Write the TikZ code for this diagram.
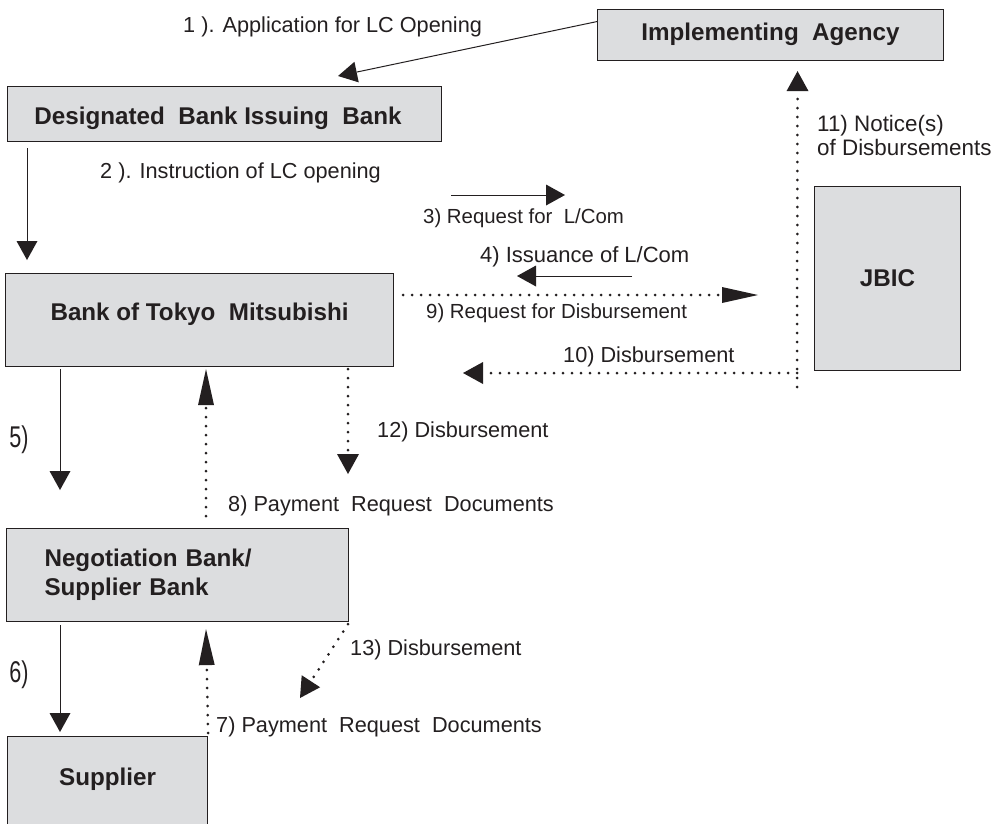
\documentclass[tikz,border=0pt]{standalone}
\usepackage{fontspec}
\setmainfont{Liberation Sans}
\usetikzlibrary{arrows.meta,calc}
\definecolor{boxgray}{RGB}{220,221,223}
\definecolor{ink}{RGB}{35,31,32}
\newcommand{\boxtxt}[2]{\raisebox{#1}[0pt][0pt]{#2}}
\newcommand{\fsz}[1]{\fontsize{#1}{24}\selectfont}
\begin{document}
\begin{tikzpicture}[x=1pt,y=-1pt,
  box/.style={draw=ink, line width=1.1pt, fill=boxgray, inner sep=0pt, anchor=north west,
    font=\bfseries\fontsize{24.2}{29}\selectfont, text=ink},
  lbl/.style={font=\fontsize{21.7}{24}\selectfont, text=ink, inner sep=0pt, anchor=west},
  bignum/.style={font=\fontsize{30}{34}\selectfont, text=ink, inner sep=0pt},
  solidarr/.style={draw=ink, line width=1pt, -{Triangle[length=19pt,width=21pt,line width=0pt]}},
  dotarr/.style={draw=ink, line width=3pt, line cap=round, dash pattern=on 0pt off 9pt,
    -{Triangle[length=20pt,width=22pt,line width=0pt]}},
  dotlong/.style={draw=ink, line width=3pt, line cap=round, dash pattern=on 0pt off 9pt,
    -{Triangle[length=36pt,width=16pt,line width=0pt]}}
]
\useasboundingbox (0,0) rectangle (992,823);

% boxes
\node[box, minimum width=346pt, minimum height=51pt] (ia) at (597,9) {\boxtxt{-5.4pt}{Implementing~ Agency}};
\node[box, minimum width=434pt, minimum height=55pt] (db) at (7,86) {\boxtxt{-10pt}{\kern-13pt Designated~ Bank Issuing~ Bank}};
\node[box, minimum width=388pt, minimum height=93pt] (btm) at (5,273) {\boxtxt{-0.4pt}{Bank of Tokyo~ Mitsubishi}};
\node[box, minimum width=146pt, minimum height=184pt] (jbic) at (814,186) {\boxtxt{-8.1pt}{JBIC}};
\node[box, minimum width=342pt, minimum height=93pt, align=left, text width=266pt] (nb) at (6,528) {Negotiation Bank/\\Supplier Bank};
\node[box, minimum width=200pt, minimum height=92pt] (sup) at (7,736) {\boxtxt{-2.6pt}{Supplier}};

% labels
\node[lbl] (l1) at (183,27) {1 ). Application for LC Opening};
\node[lbl] (l2) at (100,173) {2 ). Instruction of LC opening};
\node[lbl, font=\fsz{20.4}] (l3) at (423,218) {3) Request for~ L/Com};
\node[lbl, font=\fsz{22}] (l4) at (480,257) {4) Issuance of L/Com};
\node[lbl, font=\fsz{20.4}] (l9) at (426,313) {9) Request for Disbursement};
\node[lbl] (l10) at (563,357) {10) Disbursement};
\node[lbl, align=left, font=\fsz{22.4}] (l11) at (817,135) {11) Notice(s)\\of Disbursements};
\node[lbl] (l12) at (377,432) {12) Disbursement};
\node[lbl] (l8) at (228,506) {8) Payment~ Request~ Documents};
\node[lbl] (l13) at (350,650) {13) Disbursement};
\node[lbl] (l7) at (216,727) {7) Payment~ Request~ Documents};
\node[bignum] (n5) at (19,440) {\scalebox{0.72}[1]{5)}};
\node[bignum] (n6) at (19,675) {\scalebox{0.72}[1]{6)}};

% free ends
\coordinate (t1) at (338,76);
\coordinate (s3) at (451,195);
\coordinate (t3) at (565,195);
\coordinate (s4) at (632,276);
\coordinate (t4) at (517,276);
\coordinate (vb) at (797,387);
\coordinate (c10) at (797,373);
\coordinate (t10) at (463,373);
\coordinate (t12) at (348,474);
\coordinate (t13) at (300,698);

% connectors
\draw[solidarr] ($(ia.west)+(0,-13.5)$) -- (t1);
\draw[solidarr] ($(db.south west)+(20,6)$) -- ($(btm.north west)+(22,-13)$);
\draw[solidarr] (s3) -- (t3);
\draw[solidarr] (s4) -- (t4);
\draw[dotlong] ($(btm.north east)+(9,22)$) -- ($(jbic.north west)+(-56,109)$);
\draw[dotarr] (c10) -- (t10);
\draw[dotarr] (vb) -- ($(ia.south)+(27,10)$);
\draw[solidarr] ($(btm.south west)+(55,2)$) -- ($(nb.north west)+(54,-38)$);
\draw[dotlong] ($(nb.north west)+(200,-12)$) -- ($(btm.south west)+(201,2)$);
\draw[dotarr] ($(btm.south west)+(343,2)$) -- (t12);
\draw[solidarr] ($(nb.south west)+(54,3)$) -- ($(sup.north west)+(53,-4)$);
\draw[dotlong] ($(sup.north east)+(0,-3)$) -- ($(nb.south west)+(200,7)$);
\draw[dotarr] ($(nb.south east)+(-1,2)$) -- (t13);
\end{tikzpicture}
\end{document}
